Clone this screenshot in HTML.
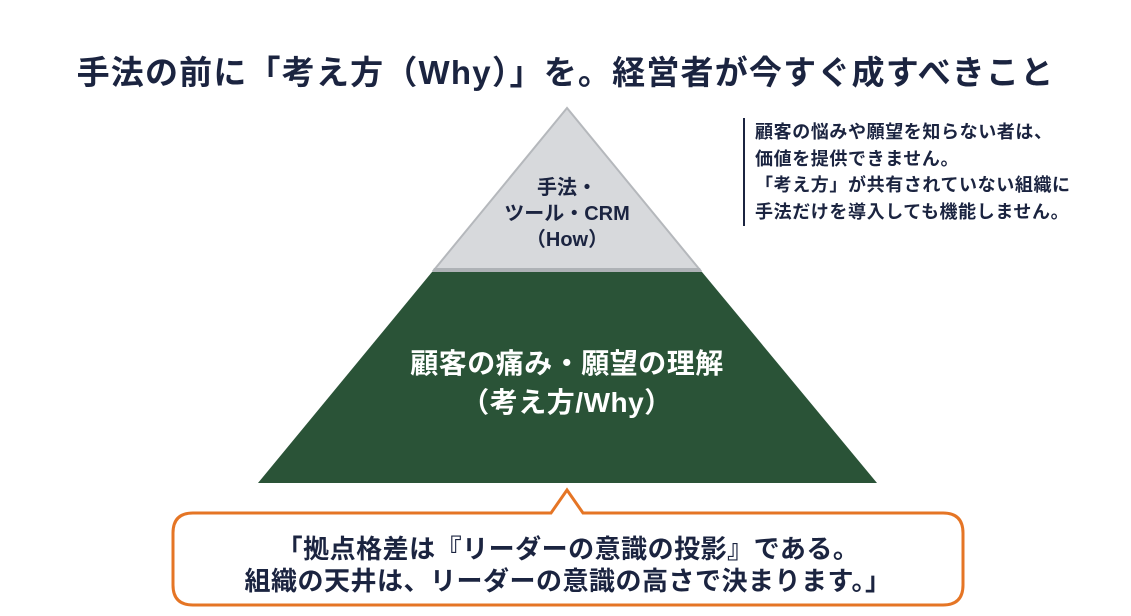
<!DOCTYPE html>
<html><head><meta charset="utf-8"><style>
body{margin:0;width:1131px;height:616px;background:#fff;overflow:hidden;font-family:"Liberation Sans","Noto Sans CJK JP",sans-serif;font-weight:bold;position:relative}
.a{position:absolute;white-space:nowrap}
</style></head><body>
<div class="a" style="left:0;width:1131px;top:46px;text-align:center;font-size:33px;color:#1b2440;letter-spacing:1.2px">手法の前に「考え方（Why）」を。経営者が今すぐ成すべきこと</div>
<svg class="a" style="left:0;top:0" width="1131" height="616">
<polygon points="567,108 434,270 700,270" fill="#d7d9dc" stroke="#b5b8bc" stroke-width="2"/>
<polygon points="434,268 700,268 702,272 432,272" fill="#aeb2b6"/>
<polygon points="432,272 702,272 877,483 258,483" fill="#2a5337"/>
<line x1="744" y1="118" x2="744" y2="226" stroke="#1b2440" stroke-width="2"/>
<path d="M193,513 H551 L567,490 L583,513 H943 Q963,513 963,533 V585 Q963,605 943,605 H193 Q173,605 173,585 V533 Q173,513 193,513 Z" fill="#fff" stroke="#e57525" stroke-width="3"/>
</svg>
<div class="a" style="left:467px;width:200px;top:175px;text-align:center;font-size:20px;line-height:26px;color:#1b2440">手法・<br>ツール・CRM<br>（How）</div>
<div class="a" style="left:317px;width:500px;top:344px;text-align:center;font-size:28px;line-height:39px;color:#fff;letter-spacing:0.5px">顧客の痛み・願望の理解<br>（考え方/Why）</div>
<div class="a" style="left:755px;top:119px;font-size:18px;line-height:26.5px;color:#1b2440;letter-spacing:0.6px">顧客の悩みや願望を知らない者は、<br>価値を提供できません。<br>「考え方」が共有されていない組織に<br>手法だけを導入しても機能しません。</div>
<div class="a" style="left:173px;width:790px;top:533px;text-align:center;font-size:26px;line-height:32px;color:#1b2440;letter-spacing:0.5px">「拠点格差は『リーダーの意識の投影』である。<br>組織の天井は、リーダーの意識の高さで決まります。」</div>
</body></html>
